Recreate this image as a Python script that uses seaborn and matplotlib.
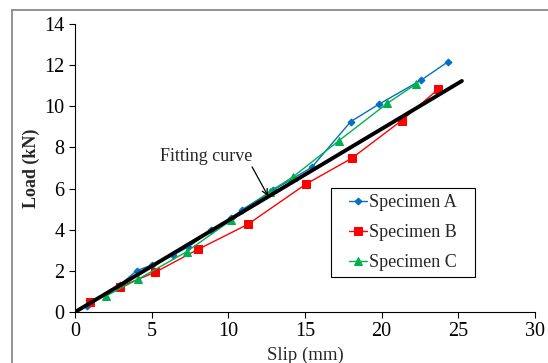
import numpy as np
import pandas as pd
import matplotlib
matplotlib.use("Agg")
import matplotlib.pyplot as plt
import seaborn as sns
from matplotlib.lines import Line2D
from matplotlib.patches import Rectangle

sns.set_style("ticks")
plt.rcParams['font.family'] = ['Liberation Serif', 'DejaVu Serif']

# slip (mm) / load (kN)
slip_a = [0.76, 2.9, 4.02, 5.0, 6.41, 7.4, 8.9, 10.18, 10.87, 12.94, 15.44, 17.98, 19.85, 22.6, 24.35]
load_a = [0.29, 1.3, 2.01, 2.28, 2.77, 3.17, 3.99, 4.55, 4.96, 5.93, 7.03, 9.25, 10.11, 11.28, 12.17]

slip_b = [0.98, 2.93, 5.22, 8.04, 11.27, 15.07, 18.05, 21.3, 23.7]
load_b = [0.5, 1.23, 1.93, 3.05, 4.26, 6.22, 7.47, 9.3, 10.83]

slip_c = [2.02, 4.13, 7.28, 10.2, 12.7, 14.24, 17.22, 20.37, 22.24]
load_c = [0.78, 1.6, 2.93, 4.47, 5.85, 6.58, 8.33, 10.14, 11.08]

fit_slip = [0, 25.24]
fit_load = [0, 11.23]

series = [
    ("Specimen A", slip_a, load_a, "#0070C0", "D", 3.5),
    ("Specimen B", slip_b, load_b, "#FF0000", "s", 5.5),
    ("Specimen C", slip_c, load_c, "#00B050", "^", 5.5),
]

fig = plt.figure(figsize=(5.48, 3.63), dpi=100)
ax = fig.add_axes([0.137, 0.1405, 0.839, 0.7935])

for name, xs, ys, col, mk, ms in series:
    df = pd.DataFrame({"Slip": xs, "Load": ys})
    sns.lineplot(data=df, x="Slip", y="Load", sort=False, color=col, marker=mk,
                 markersize=ms, markeredgecolor=col, linewidth=1.0, label=name, ax=ax)

sns.lineplot(x=fit_slip, y=fit_load, color="black", linewidth=2.8, ax=ax, legend=False)

ax.text(8.55, 7.54, "Fitting curve", ha="center", va="center", fontsize=13)
ax.annotate("", xy=(12.59, 5.64), xytext=(11.55, 7.05),
            arrowprops=dict(arrowstyle="->", color="black", lw=0.9, shrinkA=0, shrinkB=0))

ax.set_xlim(0, 30)
ax.set_ylim(0, 14)
ax.set_xticks(range(0, 31, 5))
ax.set_yticks(range(0, 15, 2))
ax.tick_params(labelsize=14.5, direction="out", length=4, width=0.8, colors="black")
ax.set_xlabel("Slip (mm)", fontsize=13.5, labelpad=4)
ax.set_ylabel("Load (kN)", fontsize=13, fontweight="bold", labelpad=3)
for s in ["top", "right"]:
    ax.spines[s].set_visible(False)
for s in ["left", "bottom"]:
    ax.spines[s].set_color("black")
    ax.spines[s].set_linewidth(0.8)

# legend box drawn separately so the padding can differ horizontally / vertically
box = Rectangle((0.557, 0.12), 0.313, 0.31, transform=ax.transAxes, facecolor="white",
                edgecolor="black", linewidth=0.8, zorder=4.5)
ax.add_patch(box)
leg = ax.legend(loc="center", bbox_to_anchor=(0.7135, 0.275), fontsize=13,
                frameon=False, borderaxespad=0, borderpad=0,
                handlelength=1.0, handletextpad=0.1, labelspacing=0.72)

# outer chart frame (partially cropped in the reference)
fig.add_artist(Line2D([12 / 548, 1], [1 - 10 / 363, 1 - 10 / 363], color="#808080", lw=1.2))
fig.add_artist(Line2D([12 / 548, 12 / 548], [0, 1 - 10 / 363], color="#808080", lw=1.2))

fig.savefig("out.png", dpi=100)
